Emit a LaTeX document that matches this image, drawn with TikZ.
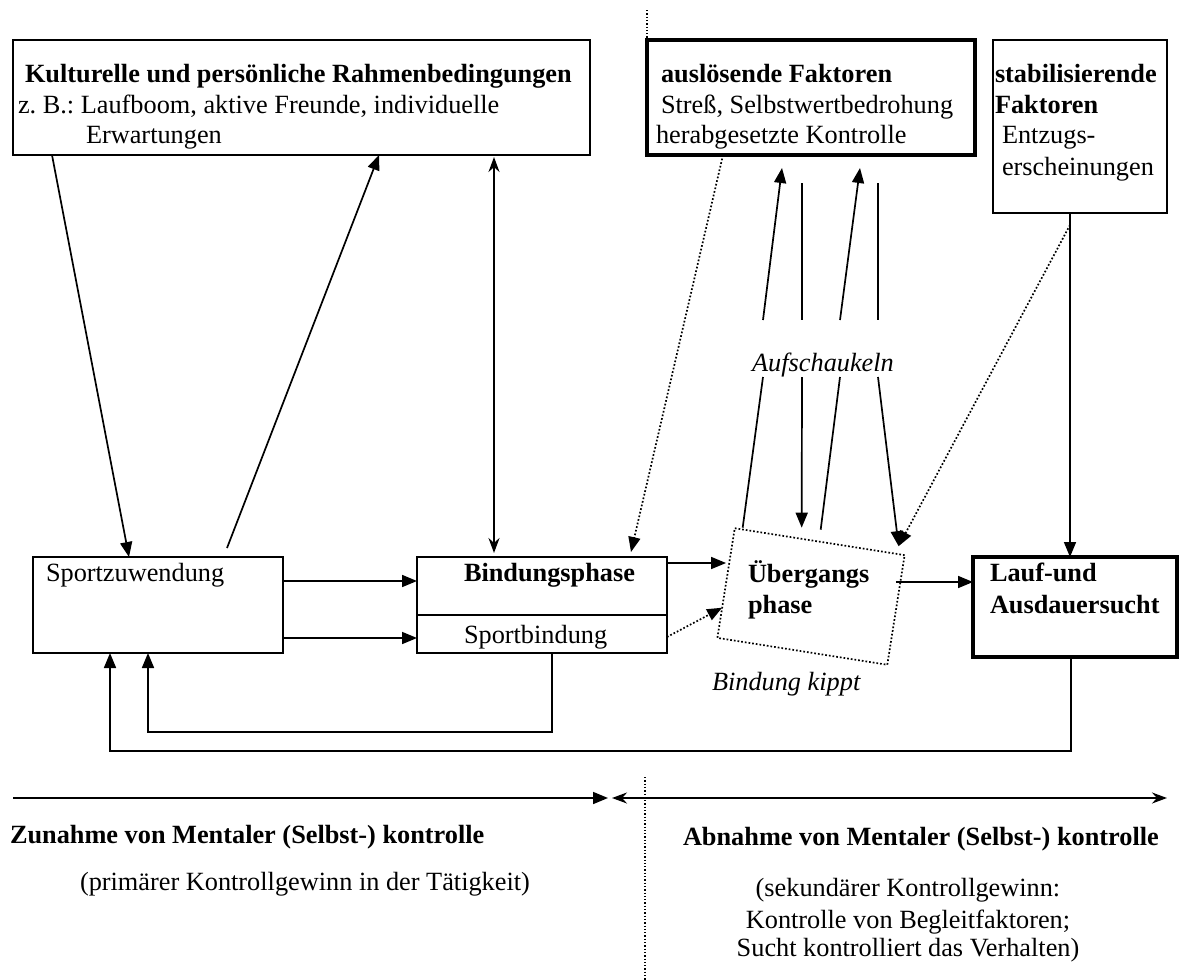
\documentclass[tikz,border=0pt]{standalone}
\usepackage{fontspec}
\setmainfont{Liberation Serif}
\usetikzlibrary{arrows.meta,calc}

\newcommand{\diafont}{\fontsize{26.3}{31}\selectfont\frenchspacing}

\tikzset{
  every node/.style={font=\diafont, inner sep=0pt, outer sep=0pt},
  box/.style={draw, line width=1.7pt},
  thickbox/.style={draw, line width=3.8pt},
  txt/.style={anchor=base west},
  arr/.style={-{Triangle[length=15pt,width=12pt]}},
  darr/.style={dotted, -{Triangle[length=15pt,width=12pt]}},
  dbl/.style={{Stealth[length=15pt,width=11pt]}-{Stealth[length=15pt,width=11pt]}},
}

\begin{document}
\begin{tikzpicture}[x=1pt,y=-1pt,line width=1.7pt]
\useasboundingbox (0,0) rectangle (1184,980);

% Rahmenbedingungen und Faktoren
\node[box, minimum width=577pt, minimum height=115pt] (kultur) at (301.5,97.5) {};
\node[thickbox, minimum width=328pt, minimum height=115pt] (ausloes) at (811,97.5) {};
\node[box, minimum width=174pt, minimum height=173pt] (stabil) at (1080,126.5) {};

\node[txt] (kulturT) at (25,82) {\textbf{Kulturelle und persönliche Rahmenbedingungen}};
\node[txt] (kulturA) at (18,113) {z. B.: Laufboom, aktive Freunde, individuelle};
\node[txt] (kulturB) at (86,143) {Erwartungen};

\node[txt] (ausT) at (661,82) {\textbf{auslösende Faktoren}};
\node[txt] (ausA) at (661,113) {Streß, Selbstwertbedrohung};
\node[txt] (ausB) at (656,143) {herabgesetzte Kontrolle};

\node[txt] (stabT) at (995,82) {\textbf{stabilisierende}};
\node[txt] (stabT2) at (995,113) {\textbf{Faktoren}};
\node[txt] (stabA) at (1002,143) {Entzugs-};
\node[txt] (stabB) at (1002,175) {erscheinungen};

% Phasen
\node[box, minimum width=250pt, minimum height=96pt] (zuwend) at (158,605) {};
\node[box, minimum width=250pt, minimum height=96pt] (bindung) at (542,605) {};
\draw ([yshift=-58pt]bindung.north west) -- ([yshift=-58pt]bindung.north east);
\node[box, dotted, rotate=-9, minimum width=172pt, minimum height=111pt] (uebergang) at (811,596.5) {};
\node[thickbox, minimum width=204pt, minimum height=100pt] (lauf) at (1075,607) {};

\node[txt] (zuwendT) at (46,581) {Sportzuwendung};
\node[txt] (bindT) at (464,581) {\textbf{Bindungsphase}};
\node[txt] (sportbT) at (464,643) {Sportbindung};
\node[txt] (uebT) at (748,582) {\textbf{Übergangs}};
\node[txt] (uebT2) at (748,613) {\textbf{phase}};
\node[txt] (kippt) at (712,690) {\textit{Bindung kippt}};
\node[txt] (laufT) at (990,581) {\textbf{Lauf-und}};
\node[txt] (laufT2) at (990,613) {\textbf{Ausdauersucht}};

% Verbindungen oben
\draw[arr] ([xshift=39pt]kultur.south west) -- ([xshift=96pt]zuwend.north west);
\draw[arr] ([xshift=194pt,yshift=9pt]zuwend.north west) -- ([xshift=366pt]kultur.south west);
\draw[dbl] ([xshift=481pt,yshift=-2pt]kultur.south west) -- ([xshift=77pt,yshift=4pt]bindung.north west);
\draw[darr] ([xshift=76pt]ausloes.south west) -- ([xshift=214pt,yshift=5pt]bindung.north west);

\coordinate (stab out) at ([xshift=-10pt]stabil.south);
\coordinate (ue corner) at ([xshift=-6pt,yshift=9pt]uebergang.north east);
\draw[arr] (stab out) -- (stab out |- lauf.north);
\draw[darr] ([yshift=-12pt]stab out) -- (ue corner);

% Aufschaukeln
\node[anchor=base] (auf) at (823,371) {\textit{Aufschaukeln}};
\coordinate (gapN) at ([yshift=51pt]auf.base);
\coordinate (gapS) at ([yshift=-6pt]auf.base);
\draw ([xshift=-77pt,yshift=14pt]uebergang.north) -- ([xshift=-60pt]gapS);
\draw[arr] ([xshift=-60pt]gapN) -- ([xshift=-29pt,yshift=-13pt]ausloes.south);
\draw ([xshift=-9pt,yshift=-28pt]ausloes.south) -- ([xshift=-21pt]gapN);
\draw[arr] ([xshift=-21pt]gapS) -- ([xshift=-18pt,yshift=14pt]uebergang.north);
\draw ([xshift=1pt,yshift=12pt]uebergang.north) -- ([xshift=17pt]gapS);
\draw[arr] ([xshift=17pt]gapN) -- ([xshift=49pt,yshift=-13pt]ausloes.south);
\draw ([xshift=67pt,yshift=-28pt]ausloes.south) -- ([xshift=55pt]gapN);
\draw[arr] ([xshift=55pt]gapS) -- (ue corner);

% Verbindungen zwischen den Phasen
\draw[arr] ([yshift=-24pt]zuwend.north east) -- ([yshift=-24pt]bindung.north west);
\draw[arr] ([yshift=-81pt]zuwend.north east) -- ([yshift=-81pt]bindung.north west);
\coordinate (bind out) at ([yshift=-6pt]bindung.north east);
\draw[arr] (bind out) -- (bind out -| uebergang.west);
\draw[darr] ([yshift=-80pt]bindung.north east) -- ($(uebergang.west)!0.45!(uebergang.south west)$);
\coordinate (lauf in) at ([yshift=25pt]lauf.west);
\draw[arr] (uebergang.east |- lauf in) -- (lauf in);

% Rueckkopplungen
\draw[arr] ([xshift=135pt]bindung.south west) -- ++(0,79) -| ([xshift=115pt]zuwend.south west);
\draw[arr] ([xshift=-4pt]lauf.south) -- ++(0,94) -| ([xshift=77pt]zuwend.south west);

% Trennlinie und Kontrollachse
\coordinate (sepT) at (647,10);
\coordinate (sepB1) at (645,777);
\coordinate (sepB2) at (645,980);
\draw[dotted, line width=1.3pt] (sepT) -- (ausloes.north west);
\draw[dotted, line width=1.3pt] (sepB1) -- (sepB2);

\coordinate (axisL) at (13,798);
\coordinate (axisM) at (610,798);
\coordinate (axisR) at (1167,798);
\draw[arr] (axisL) -- ([xshift=-2pt]axisM);
\draw[dbl] ([xshift=2pt]axisM) -- (axisR);

\node[txt] (zun) at (10,843) {\textbf{Zunahme von Mentaler (Selbst-) kontrolle}};
\node[txt] (zunB) at (80,890) {(primärer Kontrollgewinn in der Tätigkeit)};
\node[txt] (abn) at (683,845) {\textbf{Abnahme von Mentaler (Selbst-) kontrolle}};
\node[anchor=base] (abnB) at (908,896) {(sekundärer Kontrollgewinn:};
\node[anchor=base] (abnC) at (908,928) {Kontrolle von Begleitfaktoren;};
\node[anchor=base] (abnD) at (908,956) {Sucht kontrolliert das Verhalten)};
\end{tikzpicture}
\end{document}
